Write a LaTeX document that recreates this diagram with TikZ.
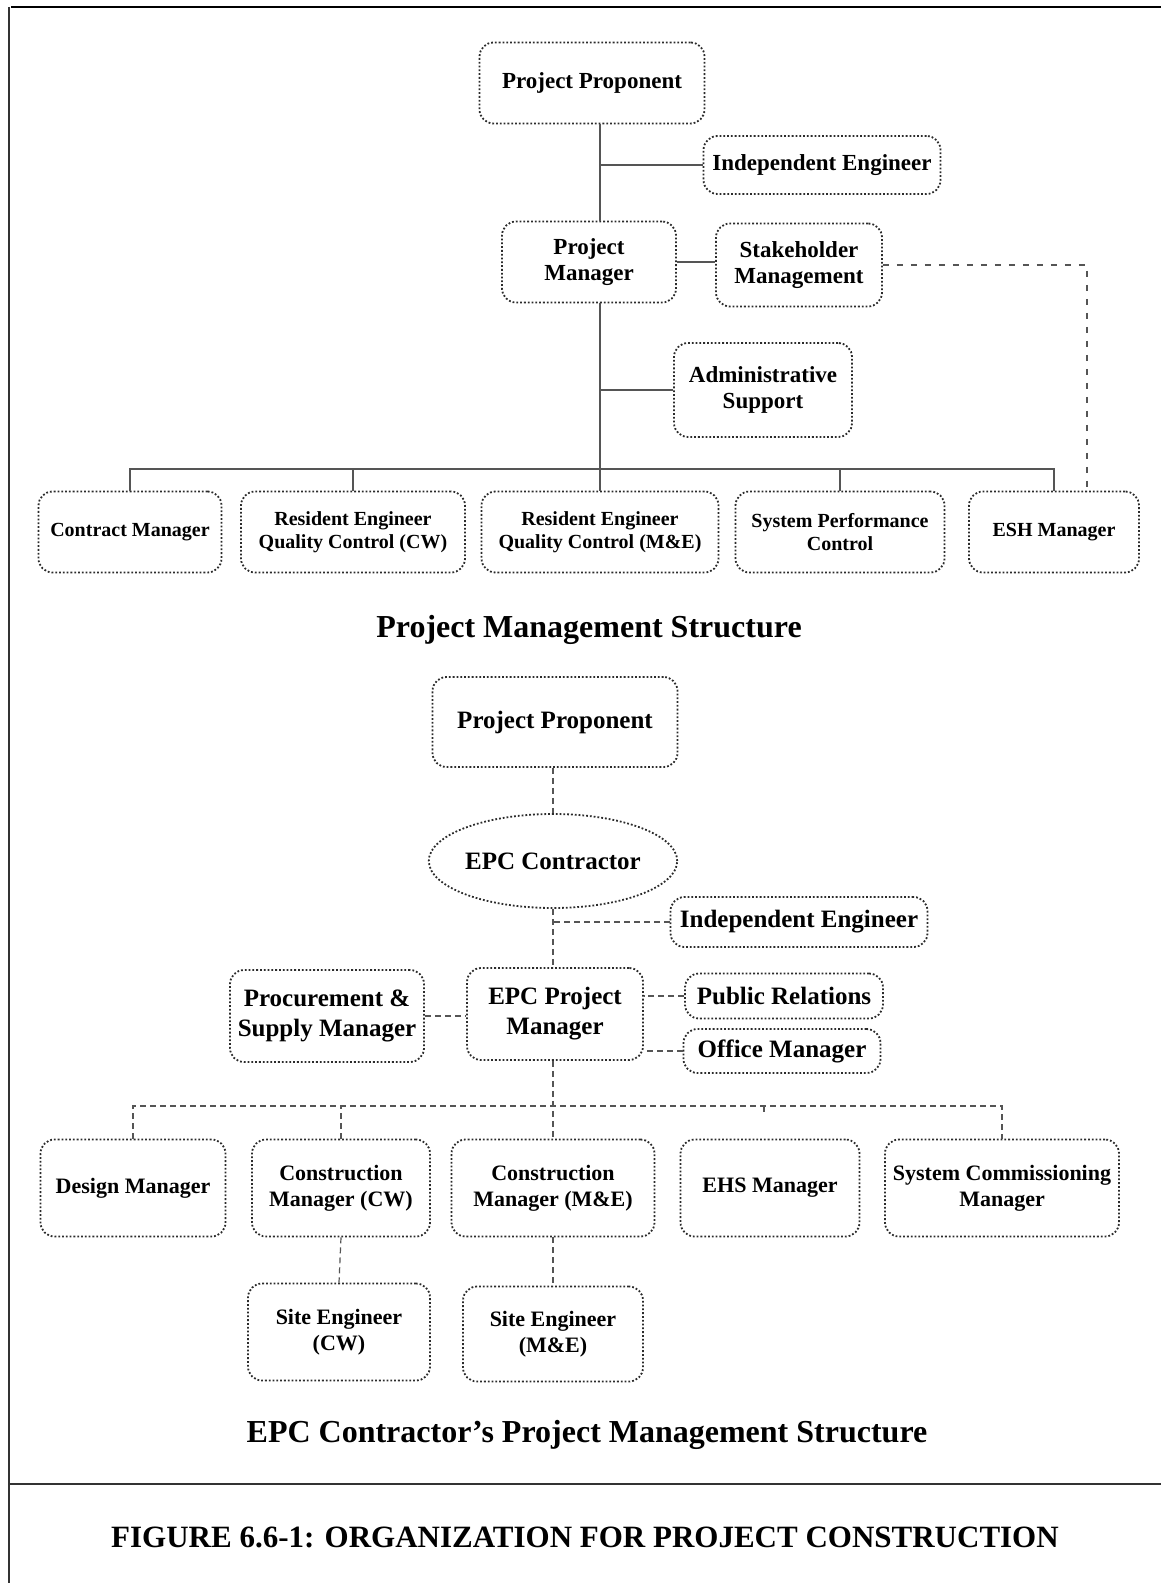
\documentclass[tikz,border=0pt]{standalone}
\usepackage{fontspec}
\setmainfont{Liberation Serif}
\usepackage{tikz}
\usetikzlibrary{shapes.geometric}
\definecolor{ScanInk}{HTML}{2B2B2B}
\definecolor{ScanLine}{HTML}{555555}

\begin{document}
\begin{tikzpicture}[x=0.5pt, y=-0.5pt,
  orgbox/.style={draw=ScanInk, densely dotted, line width=0.9pt, rounded corners=7pt,
    align=center, inner sep=2pt, text=black},
  bigtxt/.style={font=\bfseries\fontsize{11.5}{13}\selectfont},
  smalltxt/.style={font=\bfseries\fontsize{10}{11.6}\selectfont},
  epctxt/.style={font=\bfseries\fontsize{12.5}{15}\selectfont},
  rowtxt/.style={font=\bfseries\fontsize{11}{13}\selectfont},
  link/.style={draw=ScanLine, line width=0.6pt},
  dotlink/.style={draw=ScanLine, line width=0.6pt, densely dashed},
  dashlink/.style={draw=ScanLine, line width=0.6pt, dash pattern=on 3pt off 4pt},
  heading/.style={font=\bfseries\fontsize{16}{19}\selectfont}]
  \useasboundingbox (0,0) rectangle (1161,1583);
  % page frame
  \draw[black, line width=1pt] (11,7) -- (1161,7);
  \draw[black!80, line width=0.8pt] (9,7) -- (9,1583);
  \draw[black!80, line width=0.8pt] (9,1484) -- (1161,1484);

  % project management structure
  \node[orgbox, bigtxt, minimum width=112.5pt, minimum height=40.5pt] (pp1) at (592,83) {Project Proponent};
  \node[orgbox, bigtxt, minimum width=118.5pt, minimum height=29pt] (ie1) at (822,165) {Independent Engineer};
  \node[orgbox, bigtxt, minimum width=87pt, minimum height=40.5pt] (pm1) at (589,262) {Project\\Manager};
  \node[orgbox, bigtxt, minimum width=83pt, minimum height=41.5pt] (sm1) at (799,265) {Stakeholder\\Management};
  \node[orgbox, bigtxt, minimum width=89pt, minimum height=47pt] (as1) at (763,390) {Administrative\\Support};
  \node[orgbox, smalltxt, minimum width=91.5pt, minimum height=40.5pt] (cm1) at (130,532) {Contract Manager};
  \node[orgbox, smalltxt, minimum width=112pt, minimum height=40.5pt] (rec1) at (353,532) {Resident Engineer\\Quality Control (CW)};
  \node[orgbox, smalltxt, minimum width=118.5pt, minimum height=40.5pt] (rem1) at (600,532) {Resident Engineer\\Quality Control (M\&E)};
  \node[orgbox, smalltxt, minimum width=104.5pt, minimum height=40.5pt] (spc1) at (840,532) {System Performance\\Control};
  \node[orgbox, smalltxt, minimum width=85pt, minimum height=40.5pt] (esh1) at (1054,532) {ESH Manager};
  \coordinate (j1) at (600,469);
  \coordinate (d1) at (1087,262);

  \draw[link] (pp1.south -| j1) -- (pm1.north -| j1);
  \draw[link] (ie1.west) -- (ie1.west -| j1);
  \draw[link] (pm1.east) -- (pm1.east -| sm1.west);
  \draw[link] (pm1.south -| j1) -- (rem1.north);
  \draw[link] (as1.west) -- (as1.west -| j1);
  \draw[link] (cm1.north) |- (j1) -| (esh1.north);
  \foreach \n in {rec1,spc1}
    \draw[link] (\n.north) -- (\n.north |- j1);
  \draw[dashlink] (sm1.east) -- (sm1.east -| d1) -- (esh1.north -| d1);

  \node[heading] (t1) at (589,630) {Project Management Structure};

  % EPC contractor's structure
  \node[orgbox, epctxt, minimum width=122.5pt, minimum height=45pt] (pp2) at (555,722) {Project Proponent};
  \node[draw=ScanInk, densely dotted, line width=0.9pt, ellipse, inner sep=0pt, epctxt,
    minimum width=102.5pt, minimum height=47pt] (epc) at (553,861) {EPC Contractor};
  \node[orgbox, epctxt, minimum width=128.5pt, minimum height=25pt] (ie2) at (799,922) {Independent Engineer};
  \node[orgbox, epctxt, minimum width=88pt, minimum height=46pt] (pm2) at (555,1014) {EPC Project\\Manager};
  \node[orgbox, epctxt, minimum width=97pt, minimum height=46pt] (psm) at (327,1016) {Procurement \&\\Supply Manager};
  \node[orgbox, epctxt, minimum width=99pt, minimum height=22.5pt] (pr) at (784,996) {Public Relations};
  \node[orgbox, epctxt, minimum width=98.5pt, minimum height=22pt] (om) at (782,1051) {Office Manager};
  \node[orgbox, rowtxt, minimum width=92.5pt, minimum height=48.5pt] (dm) at (133,1188) {Design Manager};
  \node[orgbox, rowtxt, minimum width=89pt, minimum height=48.5pt] (cmcw) at (341,1188) {Construction\\Manager (CW)};
  \node[orgbox, rowtxt, minimum width=101.5pt, minimum height=48.5pt] (cmme) at (553,1188) {Construction\\Manager (M\&E)};
  \node[orgbox, rowtxt, minimum width=89.5pt, minimum height=48.5pt] (ehs) at (770,1188) {EHS Manager};
  \node[orgbox, rowtxt, minimum width=117pt, minimum height=48.5pt] (scm) at (1002,1188) {System Commissioning\\Manager};
  \node[orgbox, rowtxt, minimum width=91pt, minimum height=48.5pt] (secw) at (339,1332) {Site Engineer\\(CW)};
  \node[orgbox, rowtxt, minimum width=90pt, minimum height=47.5pt] (seme) at (553,1334) {Site Engineer\\(M\&E)};
  \coordinate (j2) at (553,1106);
  \coordinate (t2) at (764,1115);

  \draw[dotlink] (pp2.south -| j2) -- (epc.north -| j2);
  \draw[dotlink] (epc.south -| j2) -- (pm2.north -| j2);
  \draw[dotlink] (ie2.west) -- (ie2.west -| j2);
  \draw[dotlink] (psm.east) -- (psm.east -| pm2.west);
  \draw[dotlink] (pr.west) -- (pr.west -| pm2.east);
  \draw[dotlink] (om.west) -- (om.west -| pm2.east);
  \draw[dotlink] (pm2.south -| j2) -- (cmme.north);
  \draw[dotlink] (dm.north) |- (j2) -| (scm.north);
  \draw[dotlink] (cmcw.north) -- (cmcw.north |- j2);
  \draw[dotlink] (t2 |- j2) -- (t2);
  \draw[dotlink] (cmcw.south) -- (secw.north);
  \draw[dotlink] (cmme.south) -- (seme.north);

  \node[heading] (t2txt) at (587,1435) {EPC Contractor’s Project Management Structure};
  \node[font=\bfseries\fontsize{15.5}{18}\selectfont] (cap) at (585,1537) {FIGURE 6.6-1: ORGANIZATION FOR PROJECT CONSTRUCTION};
\end{tikzpicture}
\end{document}
